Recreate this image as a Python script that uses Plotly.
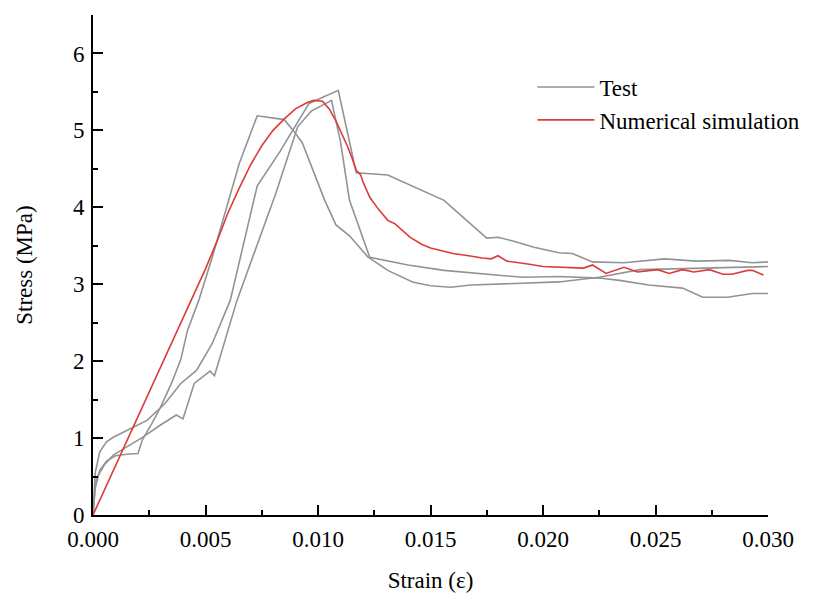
import plotly.graph_objects as go

# ---- data (strain, stress in MPa) ----
test1_strain = [0, 0.0001, 0.0003, 0.0006, 0.001, 0.0015, 0.002, 0.0022, 0.0026, 0.003, 0.0035,
                0.0039, 0.0042, 0.0047, 0.0053, 0.0065, 0.0073, 0.0085, 0.0089, 0.0093, 0.0103,
                0.0108, 0.0114, 0.0122, 0.0131, 0.0142, 0.0150, 0.0159, 0.0168, 0.0184, 0.0207,
                0.0225, 0.0234, 0.0243, 0.0258, 0.0275, 0.030]
test1_stress = [0, 0.35, 0.58, 0.70, 0.77, 0.79, 0.80, 0.98, 1.18, 1.40, 1.72,
                2.02, 2.40, 2.79, 3.35, 4.57, 5.19, 5.14, 5.00, 4.84, 4.09,
                3.77, 3.63, 3.36, 3.18, 3.03, 2.98, 2.96, 2.99, 3.01, 3.03,
                3.09, 3.14, 3.19, 3.20, 3.21, 3.23]

test2_strain = [0, 0.00005, 0.0001, 0.0003, 0.0006, 0.0009, 0.0015, 0.0024, 0.0032, 0.0039,
                0.0046, 0.0053, 0.0061, 0.0073, 0.0083, 0.0096, 0.0109, 0.0117, 0.0131, 0.0156,
                0.0175, 0.0180, 0.0187, 0.0196, 0.0207, 0.0213, 0.0222, 0.0236, 0.0254, 0.0268,
                0.0283, 0.0293, 0.030]
test2_stress = [0, 0.30, 0.55, 0.82, 0.95, 1.01, 1.10, 1.23, 1.45, 1.71,
                1.88, 2.23, 2.79, 4.28, 4.72, 5.35, 5.52, 4.45, 4.42, 4.09,
                3.60, 3.61, 3.56, 3.48, 3.41, 3.40, 3.29, 3.28, 3.33, 3.30,
                3.31, 3.28, 3.29]

test3_strain = [0, 0.0001, 0.0002, 0.0005, 0.0009, 0.0014, 0.0022, 0.003, 0.0037, 0.004,
                0.0045, 0.0052, 0.0054, 0.006, 0.0064, 0.0081, 0.0091, 0.0097, 0.0106, 0.0110,
                0.0114, 0.0123, 0.0131, 0.0140, 0.0156, 0.0173, 0.0191, 0.0207, 0.0225, 0.0234,
                0.0247, 0.0262, 0.0271, 0.0282, 0.0293, 0.030]
test3_stress = [0, 0.40, 0.50, 0.65, 0.78, 0.87, 1.01, 1.17, 1.30, 1.25,
                1.71, 1.87, 1.81, 2.40, 2.79, 4.16, 5.05, 5.25, 5.39, 4.85,
                4.09, 3.35, 3.30, 3.25, 3.18, 3.14, 3.09, 3.10, 3.08, 3.05,
                2.99, 2.95, 2.83, 2.83, 2.88, 2.88]

sim_strain = [0, 0.001, 0.002, 0.003, 0.004, 0.005, 0.0055, 0.006, 0.0065, 0.007, 0.0075,
              0.008, 0.0085, 0.009, 0.0095, 0.0098, 0.0102, 0.0105, 0.0108, 0.011, 0.0113,
              0.0115, 0.0117, 0.0119, 0.012, 0.0123, 0.0127, 0.0131, 0.0134, 0.0141, 0.0146,
              0.015, 0.0155, 0.016, 0.0167, 0.0173, 0.0177, 0.018, 0.0184, 0.019, 0.0194,
              0.020, 0.021, 0.0218, 0.0222, 0.0228, 0.0236, 0.0242, 0.0251, 0.0256, 0.0262,
              0.0267, 0.0274, 0.028, 0.0284, 0.0291, 0.0293, 0.0298]
sim_stress = [0, 0.64, 1.28, 1.92, 2.56, 3.20, 3.55, 3.93, 4.25, 4.55, 4.80,
              5.00, 5.15, 5.28, 5.36, 5.39, 5.38, 5.28, 5.12, 5.00, 4.80,
              4.65, 4.48, 4.42, 4.33, 4.13, 3.97, 3.83, 3.79, 3.61, 3.52,
              3.47, 3.43, 3.40, 3.37, 3.34, 3.33, 3.37, 3.30, 3.28, 3.26,
              3.23, 3.22, 3.21, 3.25, 3.14, 3.22, 3.16, 3.19, 3.14, 3.19,
              3.16, 3.19, 3.13, 3.13, 3.18, 3.18, 3.12]

x_ticks = [0, 0.005, 0.010, 0.015, 0.020, 0.025, 0.030]
x_ticklabels = ["0.000", "0.005", "0.010", "0.015", "0.020", "0.025", "0.030"]
y_ticks = [0, 1, 2, 3, 4, 5, 6]

GRAY = "#939393"
RED = "#dc3b3b"
FONT = "Liberation Serif, Times New Roman, serif"

fig = go.Figure()
tests = [(test1_strain, test1_stress), (test2_strain, test2_stress), (test3_strain, test3_stress)]
for i, (xs, ys) in enumerate(tests):
    fig.add_trace(go.Scatter(x=xs, y=ys, mode="lines", name="Test", legendgroup="test",
                             showlegend=(i == 0), line=dict(color=GRAY, width=1.6)))
fig.add_trace(go.Scatter(x=sim_strain, y=sim_stress, mode="lines", name="Numerical simulation",
                         line=dict(color=RED, width=1.6)))

# page body has an 8px margin, so the figure is sized/offset to compensate
fig.update_layout(
    width=807, height=585,
    margin=dict(l=85, r=47, t=7, b=78),
    paper_bgcolor="white", plot_bgcolor="white",
    font=dict(family=FONT, size=23, color="black"),
    legend=dict(x=0.651, y=0.899, xanchor="left", yanchor="top", bgcolor="rgba(0,0,0,0)",
                font=dict(family=FONT, size=23), itemwidth=57, tracegroupgap=0),
    xaxis=dict(range=[0, 0.030], tickvals=x_ticks, ticktext=x_ticklabels, automargin=False,
               showgrid=False, zeroline=False, showline=True, linecolor="black", linewidth=2,
               ticks="inside", ticklen=10, tickwidth=2, tickcolor="black", ticklabelstandoff=2,
               minor=dict(dtick=0.0025, ticks="inside", ticklen=5, tickwidth=2, tickcolor="black"),
               title=dict(text="Strain (ε)", standoff=24, font=dict(family=FONT, size=23))),
    yaxis=dict(range=[0, 6.5], tickvals=y_ticks, automargin=False,
               showgrid=False, zeroline=False, showline=True, linecolor="black", linewidth=2,
               ticks="inside", ticklen=10, tickwidth=2, tickcolor="black", ticklabelstandoff=2,
               minor=dict(dtick=0.5, ticks="inside", ticklen=5, tickwidth=2, tickcolor="black"),
               title=dict(text="Stress (MPa)", standoff=34, font=dict(family=FONT, size=23))),
)

fig.write_html("out.html")
